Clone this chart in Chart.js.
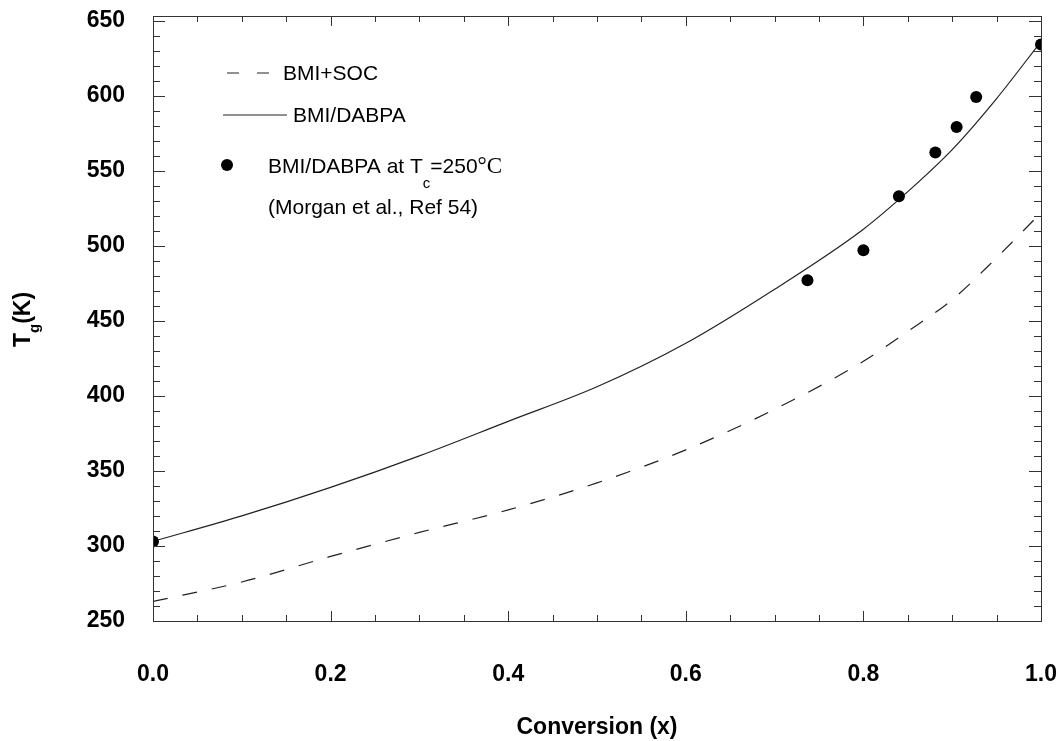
<!DOCTYPE html>
<html>
<head>
<meta charset="utf-8">
<script src="https://cdn.jsdelivr.net/npm/chart.js@4.4.0/dist/chart.umd.min.js"></script>
<style>
  html, body { margin: 0; padding: 0; background: #fff; }
</style>
</head>
<body>
<canvas id="tgChart" width="1058" height="741"></canvas>
<script>
// conversion values where the model curves were read
var conversion = [0, 0.1, 0.2, 0.3, 0.4, 0.5, 0.6, 0.7, 0.8, 0.85, 0.9, 0.95, 1.0];
var tgDabpa = [303, 320, 339, 360, 383, 406, 435, 471, 511, 536, 564, 598, 636];
var tgSoc = [263, 276, 293, 309, 324, 342, 364, 391, 423, 443, 464, 492, 522];

// Morgan et al. measurements
var expConversion = [0, 0.737, 0.80, 0.84, 0.881, 0.905, 0.927, 1.0];
var expTg = [303, 477, 497, 533, 562, 579, 599, 634];

var xTicks = [0, 0.2, 0.4, 0.6, 0.8, 1.0];
var yTicks = [250, 300, 350, 400, 450, 500, 550, 600, 650];

function toPoints(xs, ys) {
    return xs.map(function (x, i) { return {x: x, y: ys[i]}; });
}

var sans = "'Liberation Sans', Arial, sans-serif";

// inward ticks on all four sides plus the frame
var frameTicks = {
    id: 'frameTicks',
    afterDatasetsDraw: function (chart) {
        var ctx = chart.ctx, a = chart.chartArea;
        var xs = chart.scales.x, ys = chart.scales.y;
        ctx.save();
        ctx.strokeStyle = '#333';
        ctx.lineWidth = 1;
        ctx.strokeRect(Math.round(a.left) + 0.5, Math.round(a.top) + 0.5,
            Math.round(a.right - a.left), Math.round(a.bottom - a.top));
        ctx.beginPath();
        for (var i = 0; i <= 20; i++) {
            var px = Math.round(xs.getPixelForValue(i / 20)) + 0.5;
            var len = (i % 4 === 0) ? 10 : 6;
            ctx.moveTo(px, a.bottom); ctx.lineTo(px, a.bottom - len);
            ctx.moveTo(px, a.top); ctx.lineTo(px, a.top + len);
        }
        for (var v = 250; v <= 650; v += 10) {
            var py = Math.round(ys.getPixelForValue(v)) + 0.5;
            var l2 = (v % 50 === 0) ? 12 : 7;
            ctx.moveTo(a.left, py); ctx.lineTo(a.left + l2, py);
            ctx.moveTo(a.right, py); ctx.lineTo(a.right - l2, py);
        }
        ctx.stroke();
        ctx.restore();
    }
};

// legend box inside the plot and the y title with subscript
var annotations = {
    id: 'annotations',
    afterDraw: function (chart) {
        var ctx = chart.ctx;
        ctx.save();
        ctx.fillStyle = '#000';
        ctx.strokeStyle = '#222';
        ctx.lineWidth = 1.2;
        ctx.textBaseline = 'middle';
        ctx.textAlign = 'left';

        // BMI+SOC
        ctx.setLineDash([12, 18]);
        ctx.beginPath(); ctx.moveTo(227, 73); ctx.lineTo(272, 73); ctx.stroke();
        ctx.setLineDash([]);
        ctx.font = '21px ' + sans;
        ctx.fillText('BMI+SOC', 283, 74);

        // BMI/DABPA
        ctx.beginPath(); ctx.moveTo(223, 115); ctx.lineTo(287, 115); ctx.stroke();
        ctx.fillText('BMI/DABPA', 293, 116);

        // experimental points
        ctx.beginPath(); ctx.arc(227, 165, 6, 0, Math.PI * 2); ctx.fill();
        var t1 = 'BMI/DABPA at T';
        ctx.fillText(t1, 268, 167);
        var w = ctx.measureText(t1).width;
        ctx.font = '15px ' + sans;
        ctx.fillText('c', 268 + w, 184);
        var wc = ctx.measureText('c').width;
        ctx.font = '21px ' + sans;
        ctx.fillText('=250', 268 + w + wc, 167);
        var w2 = ctx.measureText('=250').width;
        ctx.font = '23px "Liberation Serif", "Times New Roman", serif';
        ctx.fillText('\u00B0C', 268 + w + wc + w2, 167);
        ctx.font = '21px ' + sans;
        ctx.fillText('(Morgan et al., Ref 54)', 268, 208);

        // y axis title T_g(K)
        ctx.translate(30, 347);
        ctx.rotate(-Math.PI / 2);
        ctx.textBaseline = 'alphabetic';
        ctx.font = 'bold 23px ' + sans;
        ctx.fillText('T', 0, 0);
        var wt = ctx.measureText('T').width;
        ctx.font = 'bold 15px ' + sans;
        ctx.fillText('g', wt, 9);
        var wg = ctx.measureText('g').width;
        ctx.font = 'bold 23px ' + sans;
        ctx.fillText('(K)', wt + wg, 0);
        ctx.restore();
    }
};

var tgChart = new Chart(document.getElementById('tgChart'), {
    type: 'line',
    data: {
        datasets: [{
            label: 'BMI/DABPA at Tc=250°C (Morgan et al., Ref 54)',
            data: toPoints(expConversion, expTg),
            showLine: false,
            pointRadius: 6,
            pointBackgroundColor: '#000',
            pointBorderColor: '#000',
            pointBorderWidth: 0,
            order: 0
        }, {
            label: 'BMI/DABPA',
            data: toPoints(conversion, tgDabpa),
            borderColor: '#222',
            borderWidth: 1.2,
            pointRadius: 0,
            cubicInterpolationMode: 'monotone',
            fill: false,
            order: 1
        }, {
            label: 'BMI+SOC',
            data: toPoints(conversion, tgSoc),
            borderColor: '#222',
            borderWidth: 1.2,
            borderDash: [15, 15],
            pointRadius: 0,
            cubicInterpolationMode: 'monotone',
            fill: false,
            order: 2
        }]
    },
    options: {
        responsive: false,
        animation: false,
        layout: {padding: {top: 16, right: 17, left: 0, bottom: 0}},
        plugins: {
            legend: {display: false},
            tooltip: {enabled: false}
        },
        scales: {
            x: {
                type: 'linear',
                min: 0,
                max: 1,
                grid: {display: false, drawTicks: false},
                border: {display: false},
                afterBuildTicks: function (scale) {
                    scale.ticks = xTicks.map(function (v) { return {value: v}; });
                },
                afterFit: function (scale) {
                    scale.height = 120;
                    scale.paddingLeft = 0;
                    scale.paddingRight = 0;
                },
                ticks: {
                    color: '#000',
                    padding: 40,
                    maxRotation: 0,
                    font: {family: sans, size: 23, weight: 'bold'},
                    callback: function (v) { return v.toFixed(1); }
                },
                title: {
                    display: true,
                    text: 'Conversion (x)',
                    color: '#000',
                    padding: {top: 0, bottom: 0},
                    font: {family: sans, size: 23, weight: 'bold'}
                }
            },
            y: {
                type: 'linear',
                min: 250,
                max: 653,
                grid: {display: false, drawTicks: false},
                border: {display: false},
                afterBuildTicks: function (scale) {
                    scale.ticks = yTicks.map(function (v) { return {value: v}; });
                },
                afterFit: function (scale) {
                    scale.width = 153;
                    scale.paddingTop = 0;
                    scale.paddingBottom = 0;
                },
                ticks: {
                    color: '#000',
                    padding: 28,
                    font: {family: sans, size: 23, weight: 'bold'}
                }
            }
        }
    },
    plugins: [frameTicks, annotations]
});
</script>
</body>
</html>
